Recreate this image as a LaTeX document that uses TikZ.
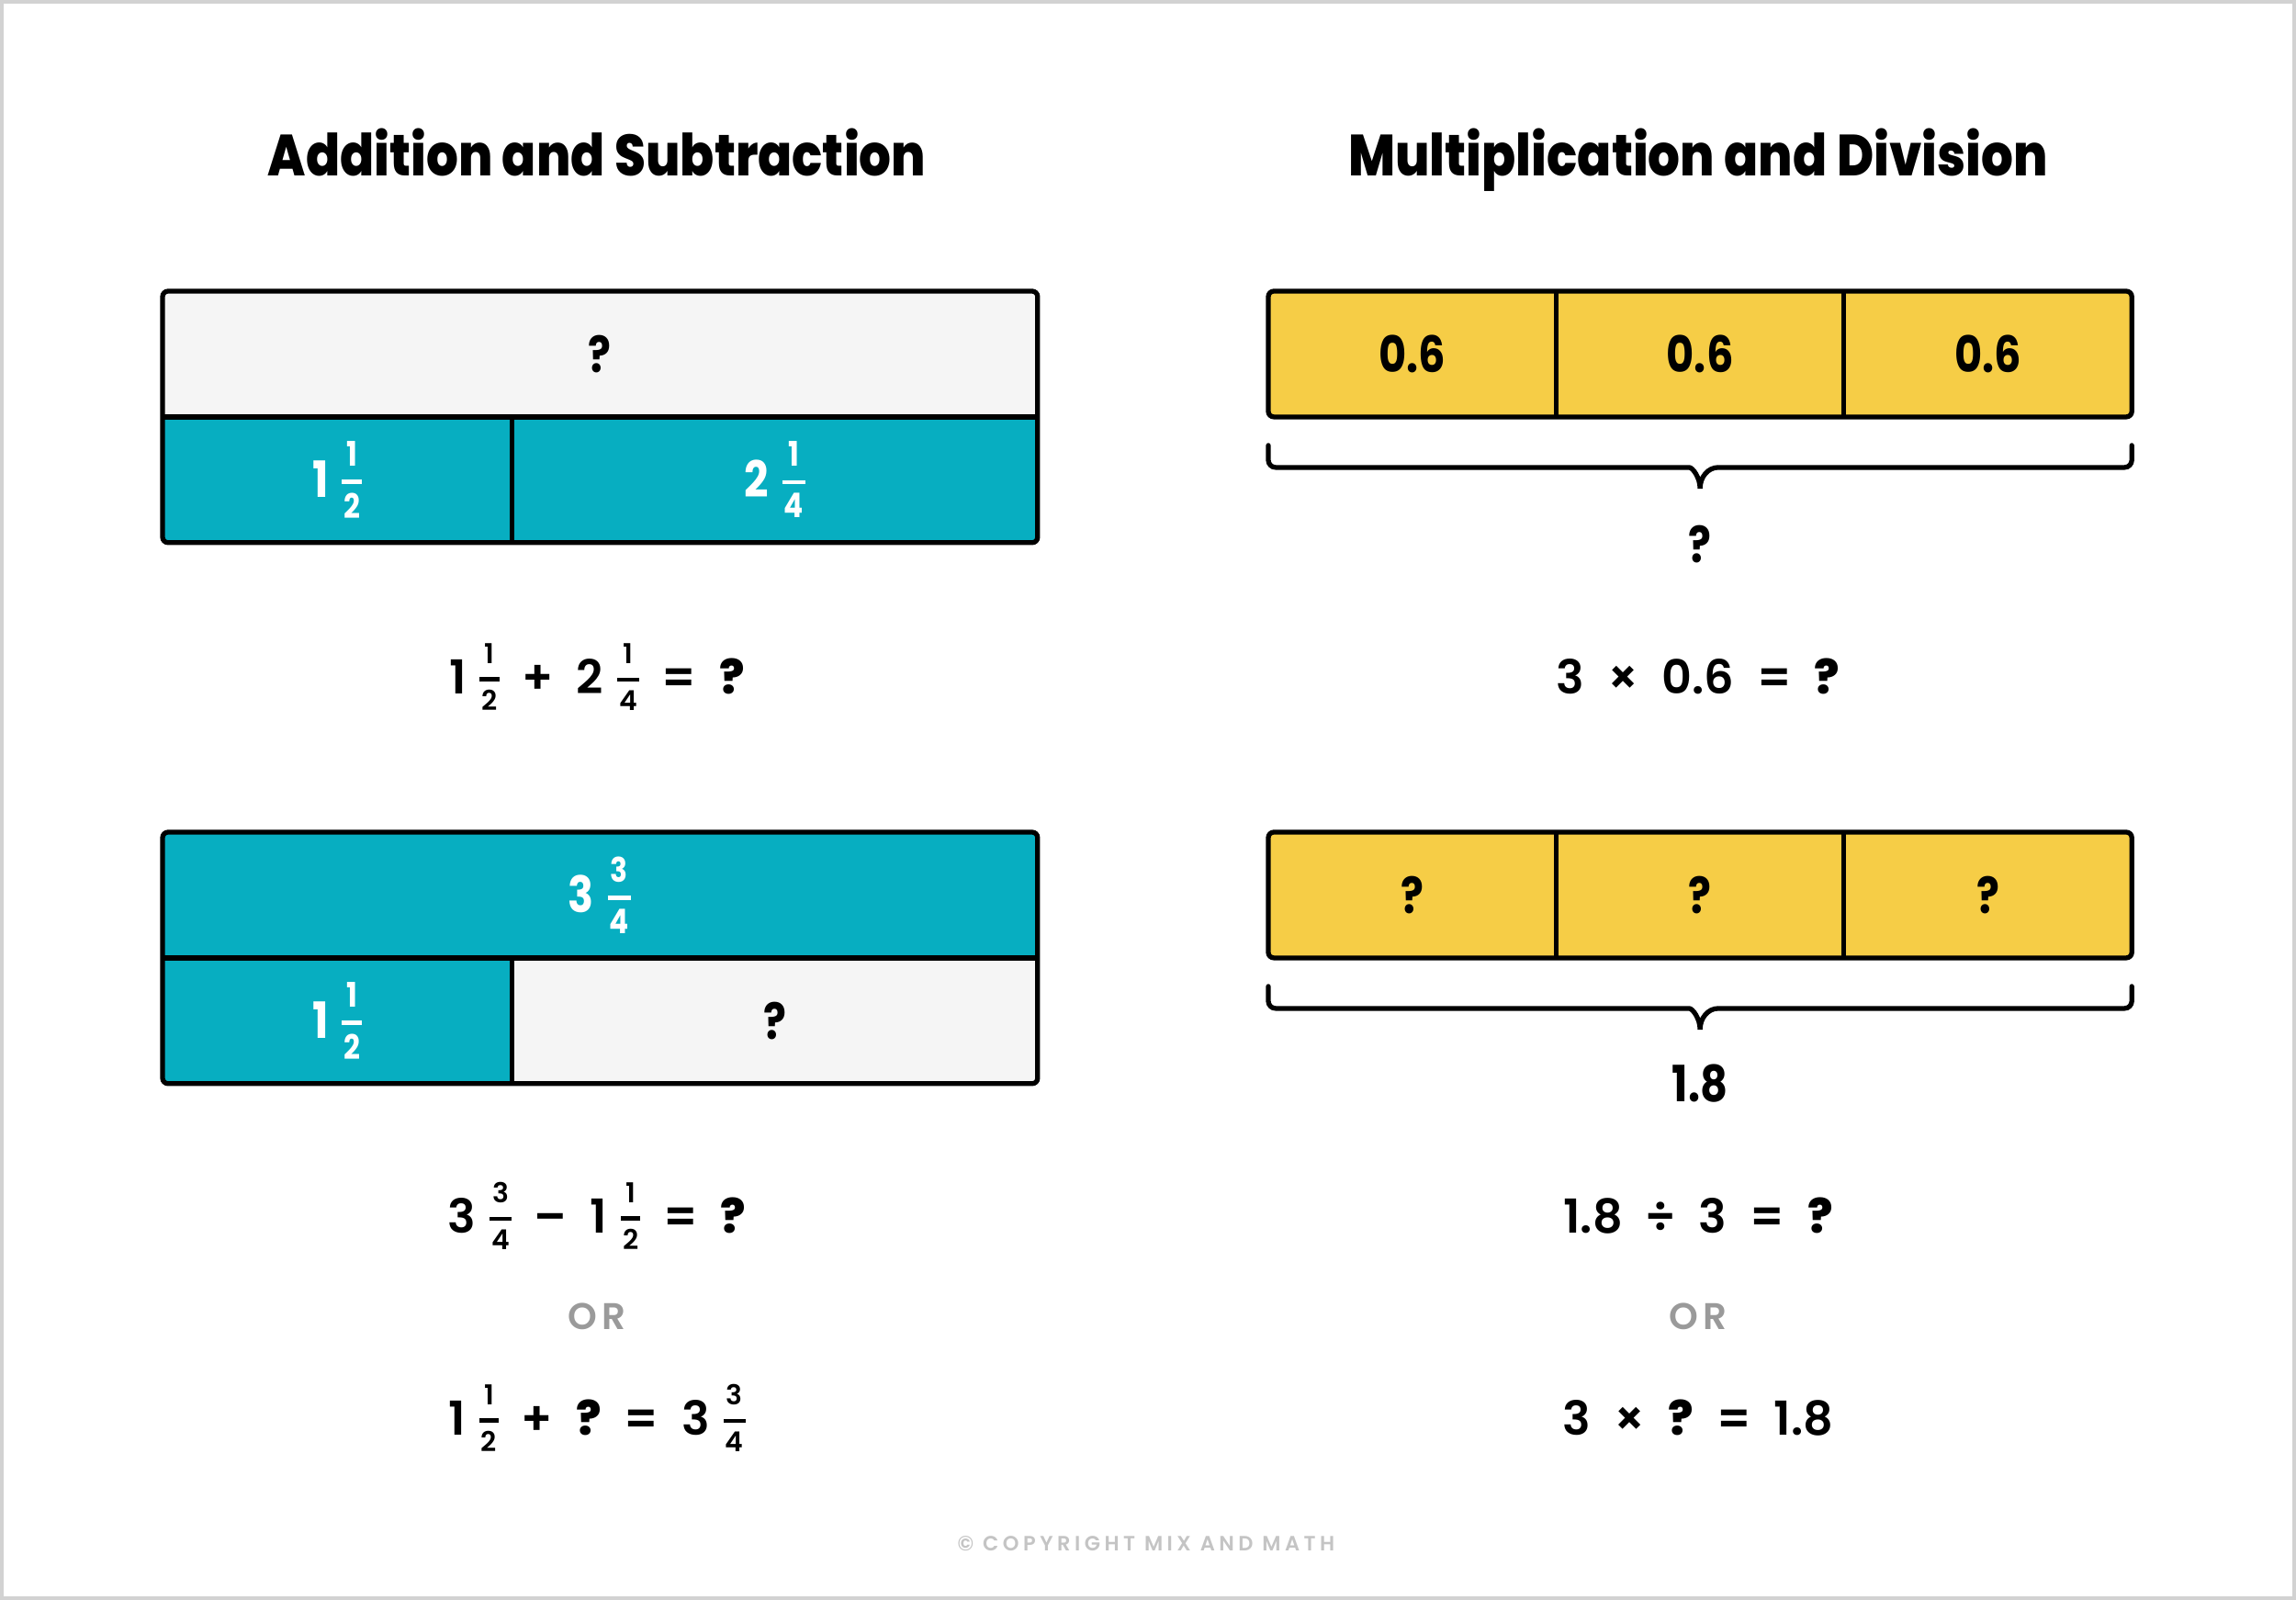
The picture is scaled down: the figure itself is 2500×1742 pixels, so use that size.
\documentclass[tikz,border=0pt]{standalone}
\usepackage{fontspec}
\setmainfont{Poppins}[BoldFont=* Bold]
\newfontfamily\titlefont{Poppins}[UprightFont=* ExtraBold, FakeStretch=0.865]
\newfontfamily\cellfont{Poppins}[UprightFont=* Bold, FakeStretch=0.85]
\newfontfamily\eqfont{Poppins}[UprightFont=* SemiBold, BoldFont=* ExtraBold]
\newfontfamily\orfont{Poppins}[UprightFont=* SemiBold, LetterSpace=12]
\newfontfamily\notefont{Poppins}[UprightFont=* SemiBold, LetterSpace=20]
\usetikzlibrary{positioning,calc}

\definecolor{barteal}{HTML}{07AEC1}
\definecolor{bargold}{HTML}{F6CD46}
\definecolor{blankgray}{HTML}{F5F5F5}
\definecolor{orgray}{HTML}{9A9A9A}
\definecolor{notegray}{HTML}{C4C4C4}
\definecolor{framegray}{HTML}{D2D2D2}

% stacked fraction, centred on the digit height of the running font
\newsavebox\fracbox
\newcommand\fr[3][8.5]{%
  \sbox\fracbox{\fontsize{#1}{#1}\selectfont\vbox{\offinterlineskip
    \halign{\hfil\kern.2mm##\kern.2mm\hfil\cr #2\cr
      \noalign{\kern1.5mm\hrule height .45mm\kern1mm}#3\cr}}}%
  \raisebox{\dimexpr.5\fontcharht\font`1-.5\ht\fracbox+.5\dp\fracbox\relax}{\usebox\fracbox}}
\newcommand\mixed[4][8.5]{#2\hspace{1.5mm}\fr[#1]{#3}{#4}}
\newcommand\gap{\hspace{2.5mm}}
\newcommand\qm{\textbf{?}}

\begin{document}
\begin{tikzpicture}[x=0.1mm, y=-0.1mm,
  cell/.style={inner sep=0pt, minimum height=13.55mm, anchor=north west,
    font=\cellfont\fontsize{15.5}{18}\selectfont},
  blankcell/.style={cell, fill=blankgray},
  tealcell/.style={cell, fill=barteal, text=white},
  goldcell/.style={cell, fill=bargold, minimum width=31.2mm},
  frame/.style={line width=1.5pt, rounded corners=0.6mm},
  split/.style={line width=1.5pt},
  bracestroke/.style={line width=1.5pt, line cap=round},
  title/.style={font=\titlefont\fontsize{18}{20}\selectfont, anchor=base},
  eq/.style={font=\eqfont\fontsize{14.5}{17}\selectfont, anchor=base},
  undertext/.style={font=\cellfont\fontsize{15.5}{18}\selectfont, anchor=base},
  ortext/.style={font=\orfont\fontsize{11.5}{13}\selectfont, text=orgray, anchor=base}]

\useasboundingbox (0,0) rectangle (2500,1742);
\draw[framegray, line width=0.9pt] (2,2) rectangle (2498,1740);

% titles
\node[title] (addtitle) at (650,192) {Addition and Subtraction};
\node[title] (multitle) at (1849,192) {Multiplication and Division};

% addition bar
\node[blankcell, minimum width=95mm] (total1) at (177,317) {?};
\node[tealcell, minimum width=37.9mm, below right=0pt and 0pt of total1.south west] (part1a) {\mixed[10.5]{1}{1}{2}};
\node[tealcell, minimum width=57.1mm, right=0pt of part1a] (part1b) {\mixed[10.5]{2}{1}{4}};
\draw[frame] (total1.north west) rectangle (part1b.south east);
\draw[split] (total1.south west) -- (total1.south east);
\draw[split] (part1a.north east) -- (part1a.south east);

\node[eq] (addeq) at (650,755) {\mixed{1}{1}{2}\gap+\gap\mixed{2}{1}{4}\gap=\gap\qm};

% subtraction bar
\node[tealcell, minimum width=95mm] (total2) at (177,906) {\mixed[10.5]{3}{3}{4}};
\node[tealcell, minimum width=37.9mm, below right=0pt and 0pt of total2.south west] (part2a) {\mixed[10.5]{1}{1}{2}};
\node[blankcell, minimum width=57.1mm, right=0pt of part2a] (part2b) {?};
\draw[frame] (total2.north west) rectangle (part2b.south east);
\draw[split] (total2.south west) -- (total2.south east);
\draw[split] (part2a.north east) -- (part2a.south east);

\node[eq] (subeq) at (650,1342) {\mixed{3}{3}{4}\gap–\gap\mixed{1}{1}{2}\gap=\gap\qm};
\node[ortext] (subor) at (650,1447) {OR};
\node[eq] (subeqalt) at (650,1562) {\mixed{1}{1}{2}\gap+\gap\qm\gap=\gap\mixed{3}{3}{4}};

% multiplication bar
\node[goldcell] (mul1) at (1381,317) {0.6};
\node[goldcell, right=0pt of mul1] (mul2) {0.6};
\node[goldcell, right=0pt of mul2] (mul3) {0.6};
\draw[frame] (mul1.north west) rectangle (mul3.south east);
\draw[split] (mul1.north east) -- (mul1.south east);
\draw[split] (mul2.north east) -- (mul2.south east);

\draw[bracestroke] ($(mul1.south west)+(0,31)$)
  [rounded corners=0.8mm] -- ++(0,24) -- ($(mul2.south)+(-20,55)$) [sharp corners]
  to[out=0,in=90] ($(mul2.south)+(0,78)$) coordinate (multip)
  to[out=90,in=180] ($(mul2.south)+(20,55)$) [rounded corners=0.8mm]
  -- ($(mul3.south east)+(0,55)$) -- ($(mul3.south east)+(0,31)$);
\node[undertext] (multotal) at ($(multip)+(0,81)$) {?};

\node[eq] (muleq) at (1849,755) {3\gap×\gap0.6\gap=\gap\qm};

% division bar
\node[goldcell] (div1) at (1381,906) {?};
\node[goldcell, right=0pt of div1] (div2) {?};
\node[goldcell, right=0pt of div2] (div3) {?};
\draw[frame] (div1.north west) rectangle (div3.south east);
\draw[split] (div1.north east) -- (div1.south east);
\draw[split] (div2.north east) -- (div2.south east);

\draw[bracestroke] ($(div1.south west)+(0,31)$)
  [rounded corners=0.8mm] -- ++(0,24) -- ($(div2.south)+(-20,55)$) [sharp corners]
  to[out=0,in=90] ($(div2.south)+(0,78)$) coordinate (divtip)
  to[out=90,in=180] ($(div2.south)+(20,55)$) [rounded corners=0.8mm]
  -- ($(div3.south east)+(0,55)$) -- ($(div3.south east)+(0,31)$);
\node[undertext] (divtotal) at ($(divtip)+(0,79)$) {1.8};

\node[eq] (diveq) at (1849,1342) {1.8\gap÷\gap3\gap=\gap\qm};
\node[ortext] (divor) at (1849,1447) {OR};
\node[eq] (diveqalt) at (1849,1562) {3\gap×\gap\qm\gap=\gap1.8};

% footer
\node[font=\notefont\fontsize{6.4}{8}\selectfont, text=notegray, anchor=base] (note) at (1248,1688) {© COPYRIGHT MIX AND MATH};
\end{tikzpicture}
\end{document}
